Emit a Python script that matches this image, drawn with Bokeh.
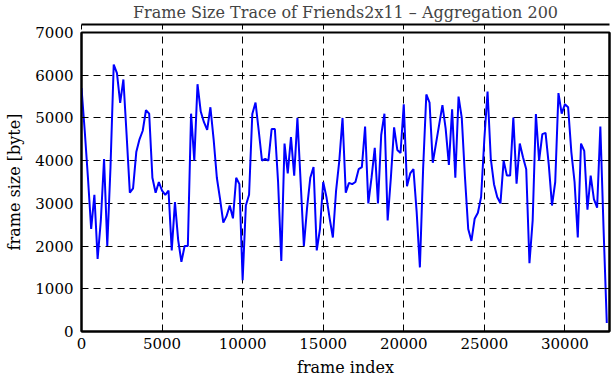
import numpy as np
from bokeh.plotting import figure
from bokeh.models import LinearAxis, FixedTicker, Range1d, ColumnDataSource, Title
from bokeh.embed import file_html
from bokeh.resources import INLINE

# aggregated frame sizes (bytes), one value per 200 frames
AGG = 200
frame_size = [
    5700, 4700, 3600, 2400, 3200, 1700, 2600, 4040, 2000, 3850,
    6250, 6050, 5350, 5900, 4600, 3250, 3350, 4200, 4500, 4700,
    5180, 5100, 3600, 3250, 3500, 3300, 3200, 3300, 1900, 3030,
    2140, 1630, 2000, 2000, 5100, 4000, 5790, 5150, 4900, 4720,
    5250, 4500, 3600, 3100, 2550, 2700, 2950, 2650, 3600, 3450,
    1200, 2950, 3200, 5090, 5360, 4700, 4000, 4040, 4000, 4740,
    4740, 3500, 1650, 4400, 3700, 4550, 3650, 5000, 3500, 2000,
    2900, 3600, 3850, 1900, 2400, 3500, 3150, 2650, 2200, 3300,
    4000, 5000, 3250, 3480, 3450, 3500, 3800, 3850, 4800, 3000,
    3600, 4300, 3000, 4600, 5100, 2600, 3600, 4780, 4250, 4180,
    5320, 3400, 3700, 3800, 2800, 1500, 3800, 5550, 5360, 3950,
    4400, 4850, 5300, 4750, 3900, 5200, 3600, 5500, 5000, 3600,
    2400, 2120, 2640, 2780, 3150, 4500, 5620, 4050, 3450, 3150,
    3000, 4000, 3650, 3650, 5010, 3460, 4400, 4080, 3800, 1600,
    2600, 5090, 4000, 4620, 4650, 3900, 2950, 3500, 5580, 5100,
    5320, 5250, 4200, 3500, 2200, 4400, 4230, 2850, 3650, 3100,
    2900, 4800, 2400, 200,
]
frame_index = [i * AGG for i in range(len(frame_size))]

x_ticks = [0, 5000, 10000, 15000, 20000, 25000, 30000]
y_ticks = [0, 1000, 2000, 3000, 4000, 5000, 6000, 7000]
x_max = 32768
y_max = 7000
title_text = "Frame Size Trace of Friends2x11 \u2013 Aggregation 200"
x_label = "frame index"
y_label = "frame size [byte]"

FONT = "DejaVu Serif"

p = figure(width=611, height=380,
           x_range=Range1d(0, x_max), y_range=Range1d(0, y_max),
           output_backend="svg", toolbar_location=None,
           min_border_left=81, min_border_right=2,
           min_border_top=32, min_border_bottom=49,
           title=title_text)

p.background_fill_color = "white"
p.border_fill_color = "white"
p.outline_line_color = "black"
p.outline_line_width = 2

p.title.text_font = FONT
p.title.text_font_size = "16px"
p.title.text_font_style = "normal"
p.title.align = "center"
p.title.vertical_align = "top"
p.title.standoff = 2

# thin spacer between the frame and the title, lifting the title up
p.add_layout(Title(text=" ", text_font_size="6px", standoff=0), "above")

src = ColumnDataSource(dict(x=frame_index, y=frame_size))
p.line("x", "y", source=src, line_color="#0000ff", line_width=2)

def style_axis(ax, ticks, show_labels=True):
    ax.ticker = FixedTicker(ticks=ticks)
    ax.axis_line_color = "black"
    ax.axis_line_width = 2
    ax.major_tick_in = 5
    ax.major_tick_out = 0
    ax.major_tick_line_color = "black"
    ax.major_tick_line_width = 1
    ax.minor_tick_line_color = None
    ax.major_label_text_font = FONT
    ax.major_label_text_color = "black"
    if show_labels:
        ax.major_label_text_font_size = "15px"
        ax.major_label_standoff = 7
    else:
        ax.major_label_text_font_size = "0px"
        ax.major_label_standoff = 0
    ax.axis_label_text_font = FONT
    ax.axis_label_text_font_size = "16px"
    ax.axis_label_text_font_style = "normal"
    ax.axis_label_text_color = "black"

style_axis(p.xaxis[0], x_ticks)
p.xaxis[0].major_label_standoff = 6
p.xaxis[0].axis_label = x_label
p.xaxis[0].axis_label_standoff = 6
style_axis(p.yaxis[0], y_ticks)
p.yaxis[0].major_label_standoff = 8
p.yaxis[0].axis_label = y_label
p.yaxis[0].axis_label_standoff = 8

top = LinearAxis()
style_axis(top, x_ticks, show_labels=False)
p.add_layout(top, "above")
right = LinearAxis()
style_axis(right, y_ticks, show_labels=False)
p.add_layout(right, "right")

for g in (p.xgrid[0], p.ygrid[0]):
    g.grid_line_color = "black"
    g.grid_line_width = 1
    g.grid_line_dash = "7 5"
p.xgrid[0].ticker = FixedTicker(ticks=x_ticks)
p.ygrid[0].ticker = FixedTicker(ticks=y_ticks)

open("out.html", "w").write(file_html(p, INLINE))
